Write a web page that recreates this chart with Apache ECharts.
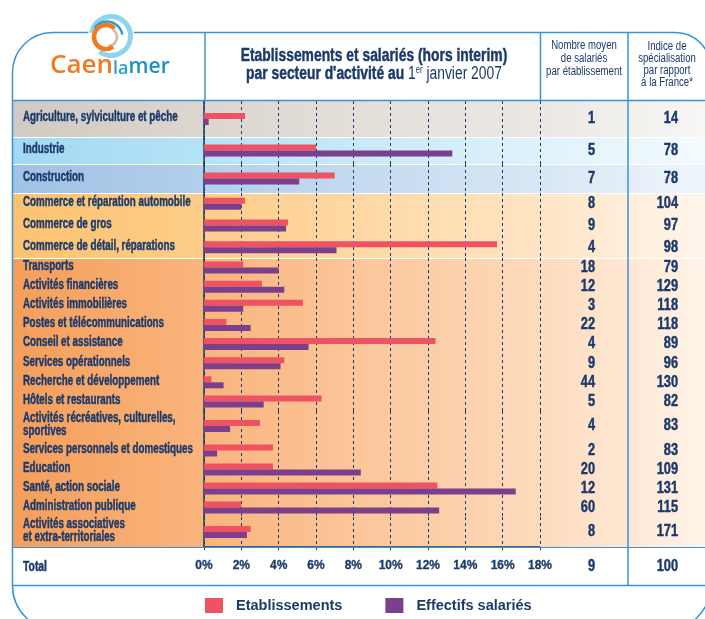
<!DOCTYPE html>
<html>
<head>
<meta charset="utf-8">
<script src="https://cdn.jsdelivr.net/npm/echarts@6/dist/echarts.min.js"></script>
<style>
html, body { margin: 0; padding: 0; background: #fff; }
#main { width: 705px; height: 619px; }
</style>
</head>
<body>
<div id="main"></div>
<script>
// secteurs d'activité
var categories = [
	"Agriculture, sylviculture et pêche",
	"Industrie",
	"Construction",
	"Commerce et réparation automobile",
	"Commerce de gros",
	"Commerce de détail, réparations",
	"Transports",
	"Activités financières",
	"Activités immobilières",
	"Postes et télécommunications",
	"Conseil et assistance",
	"Services opérationnels",
	"Recherche et développement",
	"Hôtels et restaurants",
	"Activités récréatives, culturelles,\nsportives",
	"Services personnels et domestiques",
	"Education",
	"Santé, action sociale",
	"Administration publique",
	"Activités associatives\net extra-territoriales"
];
// part des établissements (%)
var etablissements = [2.2, 6.0, 7.0, 2.2, 4.5, 15.7, 2.1, 3.1, 5.3, 1.2, 12.4, 4.3, 0.4, 6.3, 3.0, 3.7, 3.7, 12.5, 2.0, 2.5];
// part des effectifs salariés (%)
var effectifs = [0.25, 13.3, 5.1, 2.0, 4.4, 7.1, 4.0, 4.3, 2.1, 2.5, 5.6, 4.1, 1.05, 3.2, 1.4, 0.7, 8.4, 16.7, 12.6, 2.3];
// nombre moyen de salariés par établissement
var nbMoyen = [1, 5, 7, 8, 9, 4, 18, 12, 3, 22, 4, 9, 44, 5, 4, 2, 20, 12, 60, 8];
// indice de spécialisation par rapport à la France
var indice = [14, 78, 78, 104, 97, 98, 79, 129, 118, 118, 89, 96, 130, 82, 83, 83, 109, 131, 115, 171];
var totalNb = 9;
var totalIndice = 100;

var NAVY = "#1b3a6b";
var BLUE = "#3a93d4";
var RED = "#ef5262";
var PURPLE = "#7c3f8c";
var SANS = "'Liberation Sans', Arial, sans-serif";

// découpage vertical : [premier, dernier+1, haut, hauteur]
var groups = [
	[0, 1, 101, 36],
	[1, 2, 137, 27],
	[2, 3, 164, 29],
	[3, 6, 193, 65],
	[6, 14, 258, 153],
	[14, 15, 411, 30],
	[15, 19, 441, 76],
	[19, 20, 517, 30]
];

// bandes de couleur : [haut, bas, couleurs]
var bands = [
	[101, 137, ["#d1cac2", "#dcd6cf", "#ebe8e4", "#f8f7f5"]],
	[138, 164, ["#a2d9f4", "#b5e2f7", "#dff2fb", "#f4fbfe"]],
	[165, 193, ["#a0c2e4", "#b2cfec", "#d9e7f5", "#f0f5fb"]],
	[194, 258, ["#fcc270", "#fdcd88", "#ffe5c5", "#fff6ec"]],
	[259, 547, ["#f59e5a", "#f9b47c", "#fddbbd", "#fff4ea"]]
];

var grid = [], xAxis = [], yAxis = [], series = [];
groups.forEach(function(g, i){
	var last = (i == groups.length - 1);
	grid.push({ left : 204, width : 336, top : g[2], height : g[3] });
	xAxis.push({
		type : "value", gridIndex : i, min : 0, max : 18, interval : 2,
		axisLine : { show : last, lineStyle : { color : NAVY, width : 1.5 } },
		axisTick : { show : last, length : 3, lineStyle : { color : NAVY } },
		axisLabel : {
			show : last, formatter : "{value}%", margin : 13, color : NAVY,
			fontFamily : SANS, fontWeight : "bold", fontSize : 12,
			textBorderColor : NAVY, textBorderWidth : 0.3
		},
		splitLine : { show : true, lineStyle : { color : NAVY, type : [3, 3], width : 1 } }
	});
	yAxis.push({
		type : "category", gridIndex : i, inverse : true,
		data : categories.slice(g[0], g[1]),
		axisLine : { lineStyle : { color : NAVY, width : 1.5 } },
		axisTick : { length : 4, lineStyle : { color : NAVY } },
		axisLabel : { show : false }
	});
	series.push({
		name : "Etablissements", type : "bar", xAxisIndex : i, yAxisIndex : i,
		data : etablissements.slice(g[0], g[1]), barWidth : 6, barGap : "0%",
		itemStyle : { color : RED }, silent : true
	});
	series.push({
		name : "Effectifs salariés", type : "bar", xAxisIndex : i, yAxisIndex : i,
		data : effectifs.slice(g[0], g[1]), barWidth : 6, barGap : "0%",
		itemStyle : { color : PURPLE }, silent : true
	});
});

// texte comprimé horizontalement (pas de police étroite installée)
function txt(text, x, y, size, bold, align, sx, extra){
	var style = {
		text : text, x : 0, y : 0, font : (bold ? "bold " : "") + size + "px " + SANS, fill : NAVY,
		align : align, textAlign : align, verticalAlign : "middle", textVerticalAlign : "middle"
	};
	if(bold){
		style.stroke = NAVY;
		style.lineWidth = 0.45;
	}
	for(var key in extra){
		style[key] = extra[key];
	}
	return { type : "text", z : 20, x : x, y : y, scaleX : sx, style : style };
}
function line(x1, y1, x2, y2, color, w){
	return { type : "line", z : 15, shape : { x1 : x1, y1 : y1, x2 : x2, y2 : y2 }, style : { stroke : color, lineWidth : w } };
}
function arc(cx, cy, r, a0, a1, color, w){
	return { type : "arc", z : 20, shape : { cx : cx, cy : cy, r : r, startAngle : a0, endAngle : a1, clockwise : true },
		style : { stroke : color, lineWidth : w, fill : null } };
}

var graphics = [];
bands.forEach(function(b){
	graphics.push({
		type : "rect", z : -10,
		shape : { x : 13, y : b[0], width : 697, height : b[1] - b[0] },
		style : { fill : new echarts.graphic.LinearGradient(0, 0, 1, 0, [
			{ offset : 0, color : b[2][0] },
			{ offset : 0.27, color : b[2][1] },
			{ offset : 0.76, color : b[2][2] },
			{ offset : 1, color : b[2][3] }
		]) }
	});
});
// cadre
graphics.push({
	type : "rect", z : 15,
	shape : { x : 12.5, y : 32.5, width : 698, height : 598, r : [40, 35, 45, 45] },
	style : { fill : null, stroke : BLUE, lineWidth : 1.5 }
});
graphics.push(line(12.5, 100.5, 710, 100.5, BLUE, 1.5));
graphics.push(line(12.5, 547.5, 710, 547.5, BLUE, 1));
graphics.push(line(12.5, 585.5, 710, 585.5, BLUE, 1.5));
graphics.push(line(205, 32.5, 205, 100.5, BLUE, 1.5));
graphics.push(line(540.5, 32.5, 540.5, 100.5, BLUE, 1.5));
graphics.push(line(628, 32.5, 628, 585.5, BLUE, 1.5));

// titre
graphics.push(txt("Etablissements et salariés (hors interim)", 374, 56, 18, true, "center", 0.77));
graphics.push(txt("{b|par secteur d'activité au }{n|1}{s|er}{n| janvier 2007}", 374, 74, 18, true, "center", 0.77, {
	rich : {
		b : { fontFamily : SANS, fontWeight : "bold", fontSize : 18, fill : NAVY, stroke : NAVY, lineWidth : 0.45 },
		n : { fontFamily : SANS, fontSize : 18, fill : NAVY, lineWidth : 0 },
		s : { fontFamily : SANS, fontSize : 10, fill : NAVY, lineWidth : 0, padding : [0, 0, 8, 0] }
	}
}));
graphics.push(txt("Nombre moyen\nde salariés\npar établissement", 584, 59, 12, false, "center", 0.8, { lineHeight : 13 }));
graphics.push(txt("Indice de\nspécialisation\npar rapport\nà la France*", 667, 65, 12, false, "center", 0.8, { lineHeight : 12 }));

// ligne total
graphics.push(txt("Total", 23, 567, 14, true, "left", 0.74));
graphics.push(txt(String(totalNb), 595, 567, 16, true, "right", 0.8));
graphics.push(txt(String(totalIndice), 678, 567, 16, true, "right", 0.8));

// logo
graphics.push({ type : "circle", z : 16, shape : { cx : 111, cy : 36, r : 23 }, style : { fill : "#fff" } });
graphics.push(arc(111, 36, 19.5, -Math.PI * 0.95, Math.PI * 0.7, "#8fd3f0", 5));
graphics.push(arc(107, 37, 15.5, -Math.PI * 0.8, -Math.PI * 0.05, "#2a9fd6", 2.5));
graphics.push(arc(108, 37, 9, -Math.PI * 0.3, Math.PI * 0.5, "#cbc3b6", 3));
graphics.push(arc(106, 37, 12, Math.PI * 0.3, Math.PI * 1.75, "#f17a1f", 4.5));
graphics.push({
	type : "text", z : 20, x : 50, y : 66,
	style : {
		text : "{o|Caen}{l|la}{m|mer}", x : 0, y : 0,
		align : "left", textAlign : "left", verticalAlign : "middle", textVerticalAlign : "middle",
		rich : {
			o : { fontFamily : "'Open Sans'", fontWeight : 600, fontSize : 26, fill : "#f17a24" },
			l : { fontFamily : "'Open Sans'", fontWeight : 600, fontSize : 18, fill : "#2a9fd6", padding : [5, 0, 0, 0] },
			m : { fontFamily : "'Open Sans'", fontWeight : 600, fontSize : 21, fill : "#1b8fc9", padding : [3, 0, 0, 0] }
		}
	}
});

var chart = echarts.init(document.getElementById("main"));
var option = {
	animation : false,
	backgroundColor : "#fff",
	grid : grid,
	xAxis : xAxis,
	yAxis : yAxis,
	series : series,
	legend : {
		data : ["Etablissements", "Effectifs salariés"],
		left : 205, top : 598, padding : 0,
		icon : "rect", itemWidth : 18, itemHeight : 15, itemGap : 43,
		selectedMode : false,
		textStyle : { color : NAVY, fontFamily : SANS, fontWeight : "bold", fontSize : 14.5, padding : [0, 0, 0, 8] }
	},
	graphic : { elements : graphics }
};
chart.setOption(option);

// libellés et colonnes chiffrées, placés sur l'axe des catégories
var rowTexts = [];
groups.forEach(function(g, i){
	for(var k = g[0]; k < g[1]; k ++){
		var y = chart.convertToPixel({ yAxisIndex : i }, k - g[0]);
		rowTexts.push(txt(categories[k], 23, y - 1.5, 14, true, "left", 0.7, { lineHeight : 13 }));
		rowTexts.push(txt(String(nbMoyen[k]), 595, y, 16, true, "right", 0.8));
		rowTexts.push(txt(String(indice[k]), 678, y, 16, true, "right", 0.8));
	}
});
chart.setOption({ graphic : { elements : graphics.concat(rowTexts) } });
</script>
</body>
</html>
